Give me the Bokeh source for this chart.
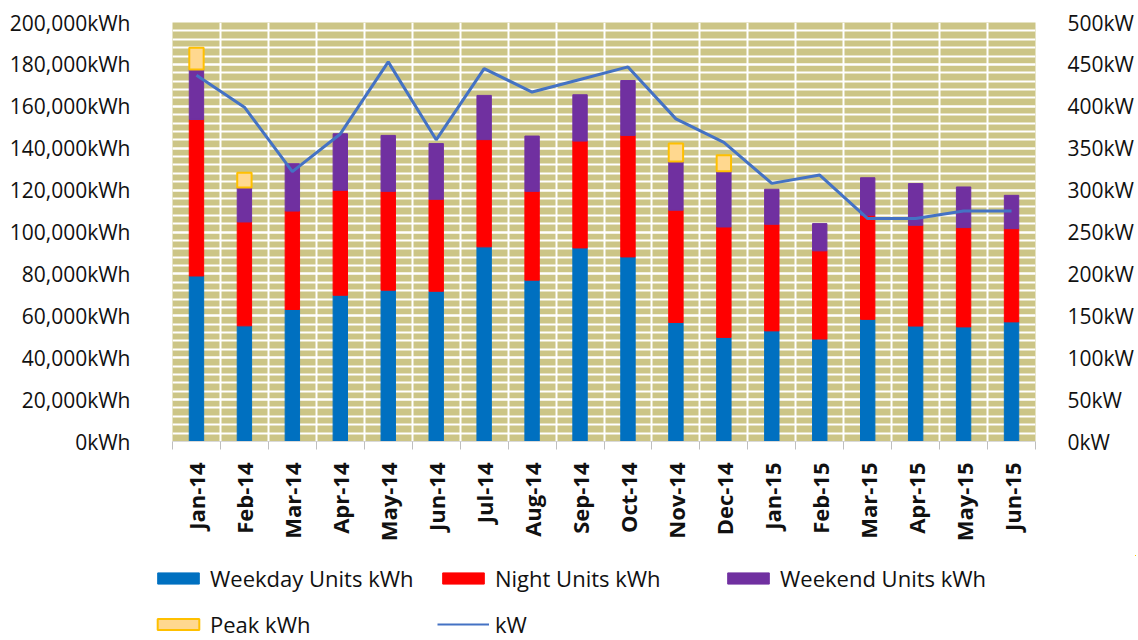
import math
from bokeh.plotting import figure
from bokeh.layouts import column, row
from bokeh.models import (ColumnDataSource, Range1d, LinearAxis, FixedTicker,
                          Legend, LegendItem, CDSView, BooleanFilter)
from bokeh.transform import stack
from bokeh.embed import file_html
from bokeh.resources import INLINE

months = ["Jan-14", "Feb-14", "Mar-14", "Apr-14", "May-14", "Jun-14", "Jul-14",
          "Aug-14", "Sep-14", "Oct-14", "Nov-14", "Dec-14", "Jan-15", "Feb-15",
          "Mar-15", "Apr-15", "May-15", "Jun-15"]
weekday = [79000, 55200, 63000, 69800, 72200, 71700, 92900, 77000, 92400,
           88100, 56800, 49700, 52800, 48900, 58300, 55100, 54700, 57100]
night = [74700, 49600, 47000, 50100, 47200, 43900, 51200, 42400, 51000,
         58000, 53600, 52700, 50900, 42100, 49700, 48100, 47400, 44500]
weekend = [23900, 16400, 22600, 27000, 26700, 26600, 21100, 26400, 22100,
           26200, 23300, 26600, 16700, 13000, 17900, 19900, 19400, 15900]
peak = [10400, 7100, 0, 0, 0, 0, 0, 0, 0, 0, 8500, 7600, 0, 0, 0, 0, 0, 0]
kw = [437, 399, 322, 367, 453, 360, 445, 417, 432, 447, 385, 357, 308, 318,
      266, 266, 275, 275]

y_ticks = list(range(0, 200001, 20000))
y_minor = list(range(0, 200001, 4000))
y_tick_labels = [f"{v:,}kWh" for v in y_ticks]
kw_ticks = list(range(0, 501, 50))
kw_tick_labels = [f"{v}kW" for v in kw_ticks]
legend_labels = ["Weekday Units kWh", "Night Units kWh", "Weekend Units kWh",
                 "Peak kWh", "kW"]

n = len(months)
xs = [i + 0.5 for i in range(n)]
bounds = list(range(n + 1))

source = ColumnDataSource(dict(x=xs, month=months, weekday=weekday, night=night,
                               weekend=weekend, peak=peak, kw=kw))

FONT = "Open Sans"
C_WD, C_NT, C_WE = "#0070C0", "#FF0000", "#7030A0"
C_PK_FILL, C_PK_LINE, C_KW = "#FFD88F", "#FFC000", "#4472C4"

W = 1136
H1, H2 = 555, 85
p = figure(width=W, height=H1, output_backend="svg", toolbar_location=None,
           x_range=Range1d(0, n), y_range=Range1d(0, 200000),
           min_border_left=172, min_border_right=W - 1036, min_border_top=22,
           min_border_bottom=H1 - 441)
p.background_fill_color = "#CCC586"
p.border_fill_color = "white"
p.outline_line_color = None

# grids
p.xgrid.ticker = FixedTicker(ticks=bounds)
p.xgrid.grid_line_color = "white"
p.xgrid.grid_line_width = 2
p.ygrid.ticker = FixedTicker(ticks=y_ticks, minor_ticks=y_minor)
p.ygrid.grid_line_color = "white"
p.ygrid.grid_line_width = 2
p.ygrid.minor_grid_line_color = "white"
p.ygrid.minor_grid_line_width = 2

# x axis
xa = p.xaxis[0]
xa.ticker = FixedTicker(ticks=xs, minor_ticks=bounds)
xa.major_label_overrides = {x: m for x, m in zip(xs, months)}
xa.major_label_orientation = math.pi / 2
xa.major_tick_line_color = None
xa.major_tick_out = 0
xa.major_tick_in = 0
xa.minor_tick_line_color = "#BFBFBF"
xa.minor_tick_out = 8
xa.minor_tick_in = 0
xa.axis_line_color = "#D9D9D9"
xa.major_label_standoff = 13
xa.major_label_text_font = FONT
xa.major_label_text_font_size = "22px"
xa.major_label_text_font_style = "bold"
xa.major_label_text_color = "#111111"

# left axis
ya = p.yaxis[0]
ya.ticker = FixedTicker(ticks=y_ticks)
ya.major_label_overrides = {v: s for v, s in zip(y_ticks, y_tick_labels)}
ya.axis_line_color = None
ya.major_tick_line_color = None
ya.minor_tick_line_color = None
ya.major_label_standoff = 36
ya.major_label_text_font = FONT
ya.major_label_text_font_size = "21px"
ya.major_label_text_color = "#111111"

# right axis
p.extra_y_ranges = {"kw": Range1d(0, 500)}
ra = LinearAxis(y_range_name="kw", ticker=FixedTicker(ticks=kw_ticks))
ra.major_label_overrides = {v: s for v, s in zip(kw_ticks, kw_tick_labels)}
ra.axis_line_color = None
ra.major_tick_line_color = None
ra.minor_tick_line_color = None
ra.major_label_standoff = 26
ra.major_label_text_font = FONT
ra.major_label_text_font_size = "21px"
ra.major_label_text_color = "#111111"
p.add_layout(ra, "right")

# stacked bars
bw = 0.3
p.vbar_stack(["weekday", "night", "weekend"], x="x", width=bw,
             color=[C_WD, C_NT, C_WE], source=source)
view = CDSView(filter=BooleanFilter([v > 0 for v in peak]))
p.vbar(x="x", width=bw, bottom=stack("weekday", "night", "weekend"),
       top=stack("weekday", "night", "weekend", "peak"),
       fill_color=C_PK_FILL, line_color=C_PK_LINE, line_width=2,
       source=source, view=view)
p.line(x="x", y="kw", y_range_name="kw", line_color=C_KW,
       line_width=3, source=source)

# legend strip below the chart (its glyph proxies fall outside its ranges)
p2 = figure(width=W, height=H2, output_backend="svg", toolbar_location=None,
            x_range=Range1d(-100, -99), y_range=Range1d(-100, -99),
            min_border=0, min_border_left=0, min_border_right=0,
            min_border_top=0, min_border_bottom=0)
p2.axis.visible = False
p2.grid.visible = False
p2.outline_line_color = None
p2.background_fill_color = "white"
g_wd = p2.vbar(x="x", top="weekday", width=bw, color=C_WD, source=source)
g_nt = p2.vbar(x="x", top="night", width=bw, color=C_NT, source=source)
g_we = p2.vbar(x="x", top="weekend", width=bw, color=C_WE, source=source)
g_pk = p2.vbar(x="x", top="peak", width=bw, fill_color=C_PK_FILL,
               line_color=C_PK_LINE, line_width=2, source=source)
g_kw = p2.line(x="x", y="kw", line_color=C_KW, line_width=2, source=source)

legend = Legend(items=[LegendItem(label=lab, renderers=[r]) for lab, r in
                       zip(legend_labels, [g_wd, g_nt, g_we, g_pk, g_kw])],
                location=(152, 1), orientation="horizontal", ncols=3)
legend.glyph_width = 52
legend.glyph_height = 14
legend.label_standoff = 6
legend.label_width = 211
legend.label_height = 20
legend.spacing = 16
legend.padding = 0
legend.margin = 0
legend.border_line_color = None
legend.background_fill_alpha = 0
legend.label_text_font = FONT
legend.label_text_font_size = "22px"
legend.label_text_color = "#111111"
p2.add_layout(legend, "center")

layout = column(p, row(p2), spacing=0)
open("out.html", "w").write(file_html(layout, INLINE))
